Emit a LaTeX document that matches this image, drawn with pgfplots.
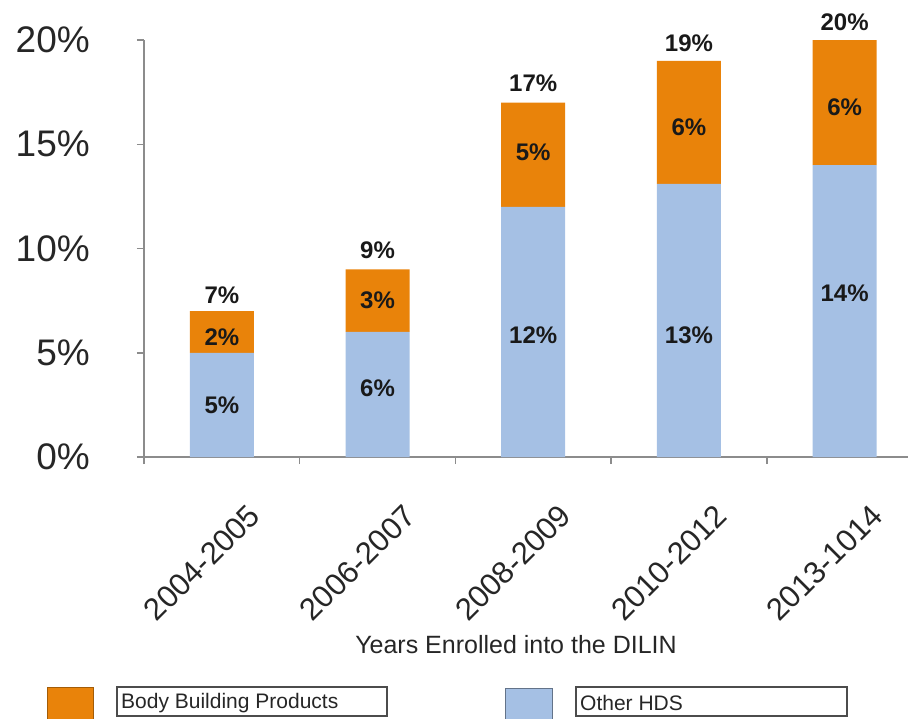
\documentclass[border=0pt]{standalone}
\usepackage{pgfplots}
\pgfplotsset{compat=1.18}
\usepackage{fontspec}
\setmainfont{Liberation Sans}
\definecolor{bborange}{RGB}{233,131,10}
\definecolor{hdsblue}{RGB}{165,192,228}
\definecolor{axgray}{RGB}{140,140,140}
\pgfplotsset{geom/.style={at={(144pt,-457pt)}, anchor=south west,
  scale only axis, width=764pt, height=417pt,
  xmin=-0.5, xmax=4.407, ymin=0, ymax=20, clip=false}}
\begin{document}
\begin{tikzpicture}[x=1pt,y=1pt]
\useasboundingbox (0,0) rectangle (908,-719);
\begin{axis}[
  geom,
  axis x line*=bottom, axis y line*=left,
  axis line style={draw=axgray, line width=1.5pt},
  ybar stacked, bar width=64pt,
  xtick={0,1,2,3,4},
  xticklabels={2004-2005,2006-2007,2008-2009,2010-2012,2013-1014},
  minor xtick={-0.5,0.5,1.5,2.5,3.5},
  major x tick style={draw=none},
  minor x tick style={draw=axgray, line width=1.5pt},
  minor tick length=7pt,
  ytick={0,5,10,15,20},
  yticklabels={0\%,5\%,10\%,15\%,20\%},
  y tick style={draw=axgray, line width=1.5pt},
  major tick length=7pt,
  tick align=outside,
  yticklabel style={font=\fontsize{37}{37}\selectfont, anchor=east, inner sep=0pt, xshift=-47pt, text=black!85},
  xticklabel style={font=\fontsize{31}{31}\selectfont, inner sep=0pt, anchor=center, xshift=-20pt, yshift=-99pt, rotate=45, text=black!85},
]
\addplot[fill=hdsblue, draw=none] coordinates {(0,5) (1,6) (2,12) (3,13.1) (4,14)};
\addplot[fill=bborange, draw=none] coordinates {(0,2) (1,3) (2,5) (3,5.9) (4,6)};
\end{axis}
\begin{axis}[geom, hide axis]
\addplot[only marks, mark=none, point meta=explicit,
  nodes near coords={\pgfmathprintnumber[assume math mode=true,fixed,precision=0]{\pgfplotspointmeta}\%},
  nodes near coords style={anchor=center, font=\fontsize{24}{24}\selectfont\bfseries, text=black!90}]
  table[meta=v] {
x y v
0 7.77 7
0 5.76 2
0 2.49 5
1 9.93 9
1 7.53 3
1 3.31 6
2 17.94 17
2 14.63 5
2 5.85 12
3 19.86 19
3 15.83 6
3 5.85 13
4 20.86 20
4 16.79 6
4 7.87 14
};
\end{axis}
\node[font=\fontsize{25}{25}\selectfont, text=black!85] at (516,-645) {Years Enrolled into the DILIN};
\fill[bborange] (47,-687) rectangle (93,-733);
\draw[bborange!70!black, line width=0.8pt] (47,-687) rectangle (93,-733);
\draw[black!70, line width=1.3pt] (117,-687) rectangle (387,-716);
\node[anchor=west, inner sep=0pt, font=\fontsize{21}{21}\selectfont, text=black!85] at (121,-703) {Body Building Products};
\fill[hdsblue] (505,-688) rectangle (552,-735);
\draw[hdsblue!60!black, line width=0.8pt] (505,-688) rectangle (552,-735);
\draw[black!70, line width=1.3pt] (576,-687) rectangle (847,-716);
\node[anchor=west, inner sep=0pt, font=\fontsize{21}{21}\selectfont, text=black!85] at (580,-703) {Other HDS};
\end{tikzpicture}
\end{document}
